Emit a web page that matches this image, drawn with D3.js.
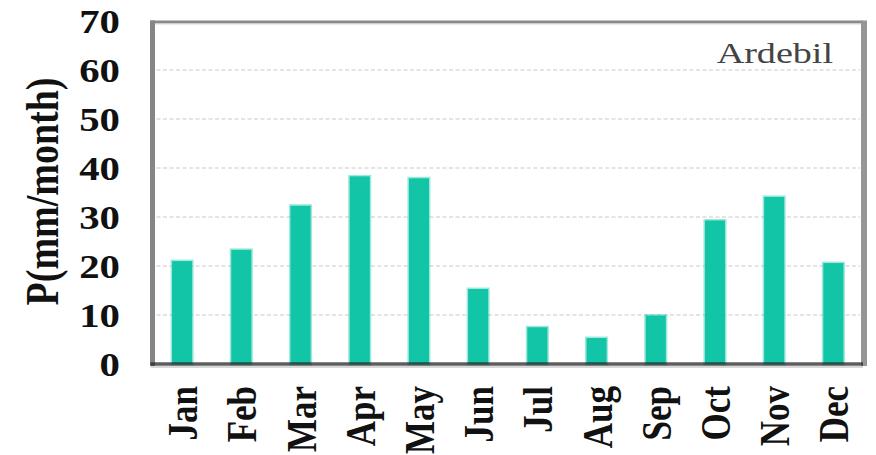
<!DOCTYPE html>
<html>
<head>
<meta charset="utf-8">
<script src="https://cdn.jsdelivr.net/npm/d3@7/dist/d3.min.js"></script>
<style>
  html, body { margin: 0; padding: 0; background: #fff; }
  svg { display: block; }
  text { font-family: "Liberation Serif", "Times New Roman", Times, serif; }
</style>
</head>
<body>
<svg id="chart" width="876" height="455"></svg>
<script>
// Monthly precipitation, Ardebil station
const months = ["Jan", "Feb", "Mar", "Apr", "May", "Jun", "Jul", "Aug", "Sep", "Oct", "Nov", "Dec"];
const precipitation = [21.0, 23.3, 32.3, 38.3, 37.9, 15.3, 7.5, 5.3, 9.9, 29.3, 34.1, 20.6];
const yTicks = [0, 10, 20, 30, 40, 50, 60, 70];
const gridValues = [10, 20, 30, 40, 50, 60];
const stationName = "Ardebil";
const yTitle = "P(mm/month)";

const svg = d3.select("#chart");
const stretch = 1.2; // wide lettering used throughout the figure

const plotLeft = 152.5, plotRight = 863, plotTop = 21, plotBottom = 364;

const x = d3.scaleBand()
  .domain(months)
  .range([plotLeft, plotRight])
  .paddingInner(0.66)
  .paddingOuter(0.33);

const y = d3.scaleLinear()
  .domain([0, 70])
  .range([plotBottom, plotTop]);

// dotted horizontal grid
svg.append("g")
  .selectAll("line")
  .data(gridValues)
  .join("line")
  .attr("x1", plotLeft + 4)
  .attr("x2", plotRight - 3)
  .attr("y1", d => y(d))
  .attr("y2", d => y(d))
  .attr("stroke", "#dcdcdc")
  .attr("stroke-width", 1.6)
  .attr("stroke-dasharray", "4,2.5");

// bars
svg.append("g")
  .selectAll("rect")
  .data(precipitation)
  .join("rect")
  .attr("x", (d, i) => x(months[i]))
  .attr("width", x.bandwidth())
  .attr("y", d => y(d))
  .attr("height", d => plotBottom - y(d))
  .attr("fill", "#12c5a7")
  .attr("stroke", "rgba(18,197,167,0.4)")
  .attr("stroke-width", 3);

// frame
const frame = svg.append("g").attr("fill", "none");
frame.append("line")
  .attr("x1", plotLeft - 2).attr("x2", plotRight)
  .attr("y1", plotTop + 1).attr("y2", plotTop + 1)
  .attr("stroke", "#8a8a8a").attr("stroke-width", 3);
frame.append("line")
  .attr("x1", plotLeft - 2).attr("x2", plotRight)
  .attr("y1", plotTop + 3).attr("y2", plotTop + 3)
  .attr("stroke", "#d8d8d8").attr("stroke-width", 1.2);
frame.append("line")
  .attr("x1", plotRight + 1).attr("x2", plotRight + 1)
  .attr("y1", plotTop - 0.5).attr("y2", plotBottom + 2)
  .attr("stroke", "#969696").attr("stroke-width", 6);
frame.append("line")
  .attr("x1", plotLeft).attr("x2", plotLeft)
  .attr("y1", plotTop - 0.5).attr("y2", plotBottom + 2)
  .attr("stroke", "#858585").attr("stroke-width", 5);
frame.append("line")
  .attr("x1", plotLeft - 2).attr("x2", plotRight)
  .attr("y1", plotBottom + 3).attr("y2", plotBottom + 3)
  .attr("stroke", "#d8d8d8").attr("stroke-width", 2);
frame.append("line")
  .attr("x1", plotLeft - 2).attr("x2", plotRight)
  .attr("y1", plotBottom).attr("y2", plotBottom)
  .attr("stroke", "rgba(40,40,40,0.75)").attr("stroke-width", 3.5);

// y tick labels
svg.append("g")
  .selectAll("text")
  .data(yTicks)
  .join("text")
  .attr("transform", d => `translate(120,${y(d)}) scale(${stretch},1)`)
  .attr("dy", "0.35em")
  .attr("text-anchor", "end")
  .attr("font-weight", "bold")
  .attr("font-size", 34)
  .attr("fill", "#111")
  .text(d => d);

// month labels
svg.append("g")
  .selectAll("text")
  .data(months)
  .join("text")
  .attr("transform", d => `translate(${x(d) + x.bandwidth() / 2 + 15},386) scale(${stretch},1) rotate(-90)`)
  .attr("text-anchor", "end")
  .attr("font-weight", "bold")
  .attr("font-size", 35)
  .attr("fill", "#111")
  .text(d => d);

// y axis title
svg.append("text")
  .attr("transform", `translate(58,191.5) scale(${stretch},1) rotate(-90)`)
  .attr("text-anchor", "middle")
  .attr("font-weight", "bold")
  .attr("font-size", 38)
  .attr("fill", "#111")
  .text(yTitle);

// station name
svg.append("text")
  .attr("transform", `translate(833,63) scale(1.27,1)`)
  .attr("text-anchor", "end")
  .attr("font-size", 30)
  .attr("fill", "#444")
  .text(stationName);
</script>
</body>
</html>
